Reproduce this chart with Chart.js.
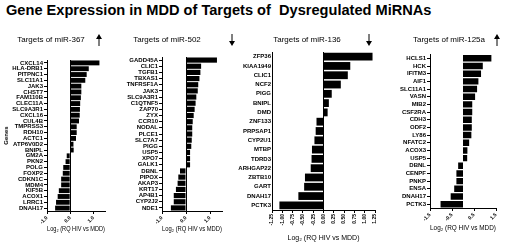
<!DOCTYPE html>
<html>
<head>
<meta charset="utf-8">
<script src="https://cdn.jsdelivr.net/npm/chart.js@4"></script>
<style>
  body { margin: 0; background: #fff; width: 506px; height: 245px; overflow: hidden; position: relative; font-family: "Liberation Sans", Arial, sans-serif; }
  canvas { position: absolute; top: 0; }
  #mainTitle { position: absolute; left: 6px; top: 2px; font-size: 14.6px; font-weight: bold; white-space: nowrap; color: #000; }
</style>
</head>
<body>
<div id="mainTitle">Gene Expression in MDD of Targets of&nbsp; Dysregulated MiRNAs</div>

<canvas id="c367"></canvas>
<canvas id="c502"></canvas>
<canvas id="c136"></canvas>
<canvas id="c125a"></canvas>

<script>
// miR-367 targets (up)
const genes367 = ['CXCL14', 'HLA-DRB1', 'PITPNC1', 'SLC11A1', 'JAK3', 'CHST7', 'FAM110B', 'CLEC11A',
  'SLC9A3R1', 'CXCL16', 'CUL4B', 'TMPRSS3', 'RDH10', 'ACTC1', 'ATP6V0D2', 'BNIPL', 'GM2A', 'PKN2',
  'POLG', 'FOXP2', 'CDKN1C', 'MDM4', 'KIF5B', 'ACOX1', 'LRRC1', 'DNAH17'];
const values367 = [1.26, 0.80, 0.71, 0.65, 0.48, 0.48, 0.46, 0.43, 0.42, 0.41, 0.38, 0.28, 0.28, 0.25,
  0.14, 0.15, -0.15, -0.20, -0.30, -0.32, -0.39, -0.39, -0.49, -0.54, -0.61, -0.65];

// miR-502 targets (down)
const genes502 = ['GADD45A', 'CLIC1', 'TGFB1', 'TBXAS1', 'TNFRSF1A', 'JAK3', 'SLC9A3R1', 'C1QTNF5',
  'ZAP70', 'ZYX', 'CCR10', 'NODAL', 'PLCE1', 'SLC7A7', 'PIGG', 'USP5', 'XPO7', 'GALK1', 'DBNL',
  'PIPOX', 'AKAP3', 'KRT17', 'AP4B1', 'CYP2J2', 'NDE1'];
const values502 = [1.29, 0.63, 0.60, 0.56, 0.51, 0.49, 0.43, 0.40, 0.36, 0.32, 0.28, 0.26, 0.26, 0.24,
  0.22, 0.17, 0.17, 0.17, -0.25, -0.32, -0.35, -0.42, -0.51, -0.51, -0.63];

// miR-136 targets (down)
const genes136 = ['ZFP36', 'KIAA1949', 'CLIC1', 'NCF2', 'PIGG', 'BNIPL', 'DMD', 'ZNF133', 'PRPSAP1',
  'CYP2U1', 'MTBP', 'TDRD3', 'ARHGAP22', 'ZBTB10', 'GART', 'DNAH17', 'PCTK3'];
const values136 = [1.19, 0.65, 0.59, 0.42, 0.20, 0.13, 0.10, -0.17, -0.19, -0.22, -0.28, -0.29, -0.31,
  -0.45, -0.47, -0.61, -1.07];

// miR-125a targets (up)
const genes125a = ['HCLS1', 'HCK', 'IFITM3', 'AIF1', 'SLC11A1', 'VASN', 'MIB2', 'CSF2RA', 'CDH3',
  'ODF2', 'LY86', 'NFATC2', 'ACOX3', 'USP5', 'DBNL', 'CENPF', 'PNKP', 'ENSA', 'DNAH17', 'PCTK3'];
const values125a = [1.29, 0.90, 0.82, 0.70, 0.64, 0.55, 0.42, 0.42, 0.40, 0.40, 0.38, 0.28, 0.20, 0.19,
  -0.22, -0.30, -0.30, -0.40, -0.56, -1.02];

const xTitle = 'Log\u2082 (RQ HIV vs MDD)';
const FONT = '"Liberation Sans", Arial, sans-serif';

// draws the panel heading and the up/down arrow next to it
const headingPlugin = {
  id: 'heading',
  afterDraw(chart, args, opts) {
    const ctx = chart.ctx;
    ctx.save();
    ctx.fillStyle = '#000';
    ctx.strokeStyle = '#000';
    ctx.font = '8px ' + FONT;
    ctx.textAlign = 'center';
    ctx.textBaseline = 'middle';
    ctx.fillText(opts.text, opts.cx, opts.cy);
    // arrow
    const ax = opts.ax, top = opts.ay - 6, bot = opts.ay + 6;
    ctx.lineWidth = 1;
    ctx.beginPath();
    if (opts.up) {
      ctx.moveTo(ax, bot); ctx.lineTo(ax, top + 3);
      ctx.stroke();
      ctx.beginPath(); ctx.moveTo(ax - 3, top + 5); ctx.lineTo(ax + 3, top + 5); ctx.lineTo(ax, top); ctx.closePath(); ctx.fill();
    } else {
      ctx.moveTo(ax, top); ctx.lineTo(ax, bot - 3);
      ctx.stroke();
      ctx.beginPath(); ctx.moveTo(ax - 3, bot - 5); ctx.lineTo(ax + 3, bot - 5); ctx.lineTo(ax, bot); ctx.closePath(); ctx.fill();
    }
    ctx.restore();
  }
};

// build one horizontal bar panel; box values are page coordinates of the plot area
function makePanel(id, labels, values, box) {
  const cv = document.getElementById(id);
  const w = box.x1 - box.x0;
  cv.width = w; cv.height = 245;
  cv.style.left = box.x0 + 'px';
  cv.style.width = w + 'px'; cv.style.height = '245px';

  return new Chart(cv, {
    type: 'bar',
    data: {
      labels: labels,
      datasets: [{
        data: values,
        backgroundColor: '#000',
        borderWidth: 0,
        barPercentage: 0.84,
        categoryPercentage: 1
      }]
    },
    plugins: [headingPlugin],
    options: {
      indexAxis: 'y',
      responsive: false,
      animation: false,
      devicePixelRatio: 1,
      layout: { padding: { left: 0, top: box.top, right: box.x1 - box.right, bottom: 0 } },
      plugins: {
        legend: { display: false },
        tooltip: { enabled: false },
        heading: {
          text: box.heading, cx: box.hx - box.x0, cy: 40,
          ax: box.arrowX - box.x0, ay: 40, up: box.up
        }
      },
      scales: {
        x: {
          min: box.min, max: box.max,
          ticks: {
            stepSize: box.step,
            color: '#000',
            font: { family: FONT, size: 5, weight: 'bold' },
            minRotation: box.rot, maxRotation: box.rot,
            padding: 1,
            callback: v => v.toFixed(box.dec)
          },
          grid: {
            color: c => (c.tick && Math.abs(c.tick.value) < 1e-9) ? '#000' : 'rgba(0,0,0,0)',
            tickColor: '#000',
            tickLength: 3,
            lineWidth: 1
          },
          border: { color: '#000', width: 1 },
          title: {
            display: true, text: xTitle, color: '#000',
            font: { family: FONT, size: 7 },
            padding: { top: 0, bottom: box.titlePad }
          },
          afterFit: s => { s.height = 245 - box.bottom; }
        },
        y: {
          ticks: {
            color: '#000', autoSkip: false, padding: 1,
            font: { family: FONT, size: box.labelSize, weight: 'bold' }
          },
          grid: { drawOnChartArea: false, offset: false, tickLength: box.yTick, tickColor: '#000' },
          border: { color: '#000', width: 1 },
          title: {
            display: !!box.yTitle, text: box.yTitle || '', color: '#000',
            font: { family: FONT, size: 6, weight: 'bold' },
            padding: { top: 2.5, bottom: 0 }
          },
          afterFit: s => { s.width = box.left - box.x0; }
        }
      }
    }
  });
}

makePanel('c367', genes367, values367, {
  x0: 0, x1: 110, left: 47, right: 105, top: 60, bottom: 211,
  min: -1, max: 1.5, step: 0.5, dec: 1, rot: 45, titlePad: 12, labelSize: 6, yTick: 3, yTitle: 'Genes',
  heading: 'Targets of miR-367', hx: 51, arrowX: 99, up: true
});
makePanel('c502', genes502, values502, {
  x0: 110, x1: 238, left: 162, right: 222, top: 57, bottom: 211,
  min: -1, max: 1.5, step: 0.5, dec: 1, rot: 45, titlePad: 12, labelSize: 6, yTick: 3,
  heading: 'Targets of miR-502', hx: 167, arrowX: 232, up: false
});
makePanel('c136', genes136, values136, {
  x0: 238, x1: 382, left: 272, right: 377, top: 52, bottom: 210,
  min: -1.25, max: 1.25, step: 0.25, dec: 2, rot: 90, titlePad: 3, labelSize: 6, yTick: 0,
  heading: 'Targets of miR-136', hx: 307, arrowX: 369, up: false
});
makePanel('c125a', genes125a, values125a, {
  x0: 382, x1: 506, left: 430, right: 496, top: 54.5, bottom: 208,
  min: -1.5, max: 1.5, step: 0.5, dec: 1, rot: 45, titlePad: 13, labelSize: 6, yTick: 3,
  heading: 'Targets of miR-125a', hx: 449, arrowX: 497, up: true
});
</script>
</body>
</html>
